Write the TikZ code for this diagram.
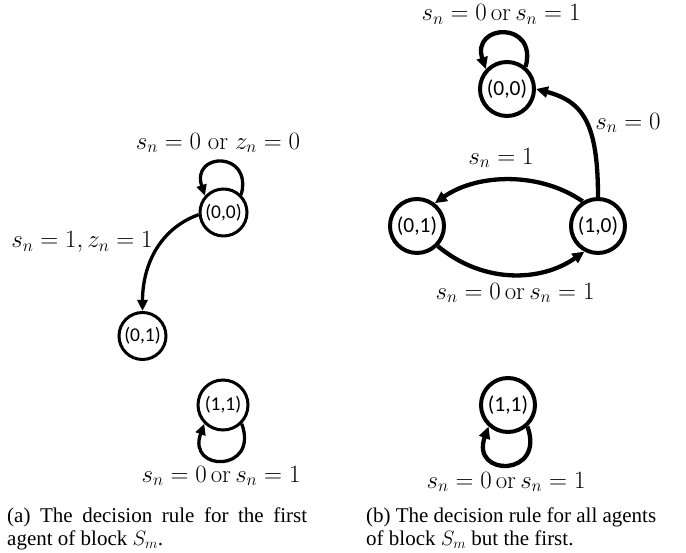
\documentclass[tikz,border=0pt]{standalone}
\usepackage{amsmath}
\usepackage{amssymb}
\usepackage[no-math]{fontspec}
\setmainfont{Liberation Serif}
\newfontfamily\statefont{Carlito}
\usetikzlibrary{arrows.meta}

\begin{document}
\begin{tikzpicture}[x=1pt,y=1pt,
  stateA/.style={draw,circle,line width=3pt,minimum size=47pt,inner sep=0pt,
    font=\statefont\fontsize{19.5}{20}\selectfont},
  stateB/.style={draw,circle,line width=4pt,minimum size=54pt,inner sep=0pt,
    font=\statefont\fontsize{21.5}{22}\selectfont},
  edgeA/.style={line width=3.3pt,-{Triangle[length=11pt,width=10pt]}},
  edgeB/.style={line width=4.3pt,-{Triangle[length=12pt,width=11pt]}},
  lab/.style={inner sep=0pt,font=\fontsize{23}{27}\selectfont},
  capbox/.style={inner sep=0pt,anchor=north west,align=justify,
    font=\fontsize{21}{22.6}\selectfont}]
  \useasboundingbox (0,0) rectangle (686,553);
  \node[stateA] (A00) at (223.5,340.5) {(0,0)};
  \node[stateA] (A01) at (142.5,217) {(0,1)};
  \node[stateA,minimum size=50pt] (A11) at (223,148) {(1,1)};
  \draw[edgeA] (A00.45) .. controls +(75:46pt) and +(108:46pt) .. (A00.138);
  \draw[edgeA] (A00.185) to[out=200,in=90] (A01.north);
  \draw[edgeA] (A11.-45) .. controls +(-70:52pt) and +(-110:52pt) .. (A11.-135);
  \node[lab] (LA0) at (218,410) {$s_n = 0\;\mathrm{or}\;z_n = 0$};
  \node[lab] (LA1) at (82,311) {$s_n = 1, z_n = 1$};
  \node[lab] (LA2) at (221,77) {$s_n = 0\,\mathrm{or}\,s_n = 1$};
  \node[stateB] (B00) at (507,464) {(0,0)};
  \node[stateB] (B01) at (417,327) {(0,1)};
  \node[stateB] (B10) at (598,327) {(1,0)};
  \node[stateB] (B11) at (508,148) {(1,1)};
  \draw[edgeB] (B00.50) .. controls +(75:48pt) and +(108:48pt) .. (B00.137);
  \draw[edgeB] (B11.-48) .. controls +(-70:54pt) and +(-110:54pt) .. (B11.-132);
  \draw[edgeB] (B10.north) .. controls +(90:75pt) and +(-15:48pt) .. (B00.east);
  \draw[edgeB] (B10.122) .. controls +(145:52pt) and +(35:52pt) .. (B01.52);
  \draw[edgeB] (B01.-44) .. controls +(-40:58pt) and +(-145:54pt) .. (B10.-118);
  \node[lab] (LB0) at (501,538.5) {$s_n = 0\,\mathrm{or}\,s_n = 1$};
  \node[lab] (LB1) at (628,430) {$s_n = 0$};
  \node[lab] (LB2) at (501,395) {$s_n = 1$};
  \node[lab] (LB3) at (515,260) {$s_n = 0\,\mathrm{or}\,s_n = 1$};
  \node[lab] (LB4) at (506,71) {$s_n = 0\,\mathrm{or}\,s_n = 1$};
  \node[capbox,text width=300pt] (CapA) at (7,45)
    {(a) The decision rule for the first agent of block $S_m$.};
  \node[capbox,text width=290pt] (CapB) at (366,45)
    {(b) The decision rule for all agents of block $S_m$ but the first.};
\end{tikzpicture}
\end{document}
